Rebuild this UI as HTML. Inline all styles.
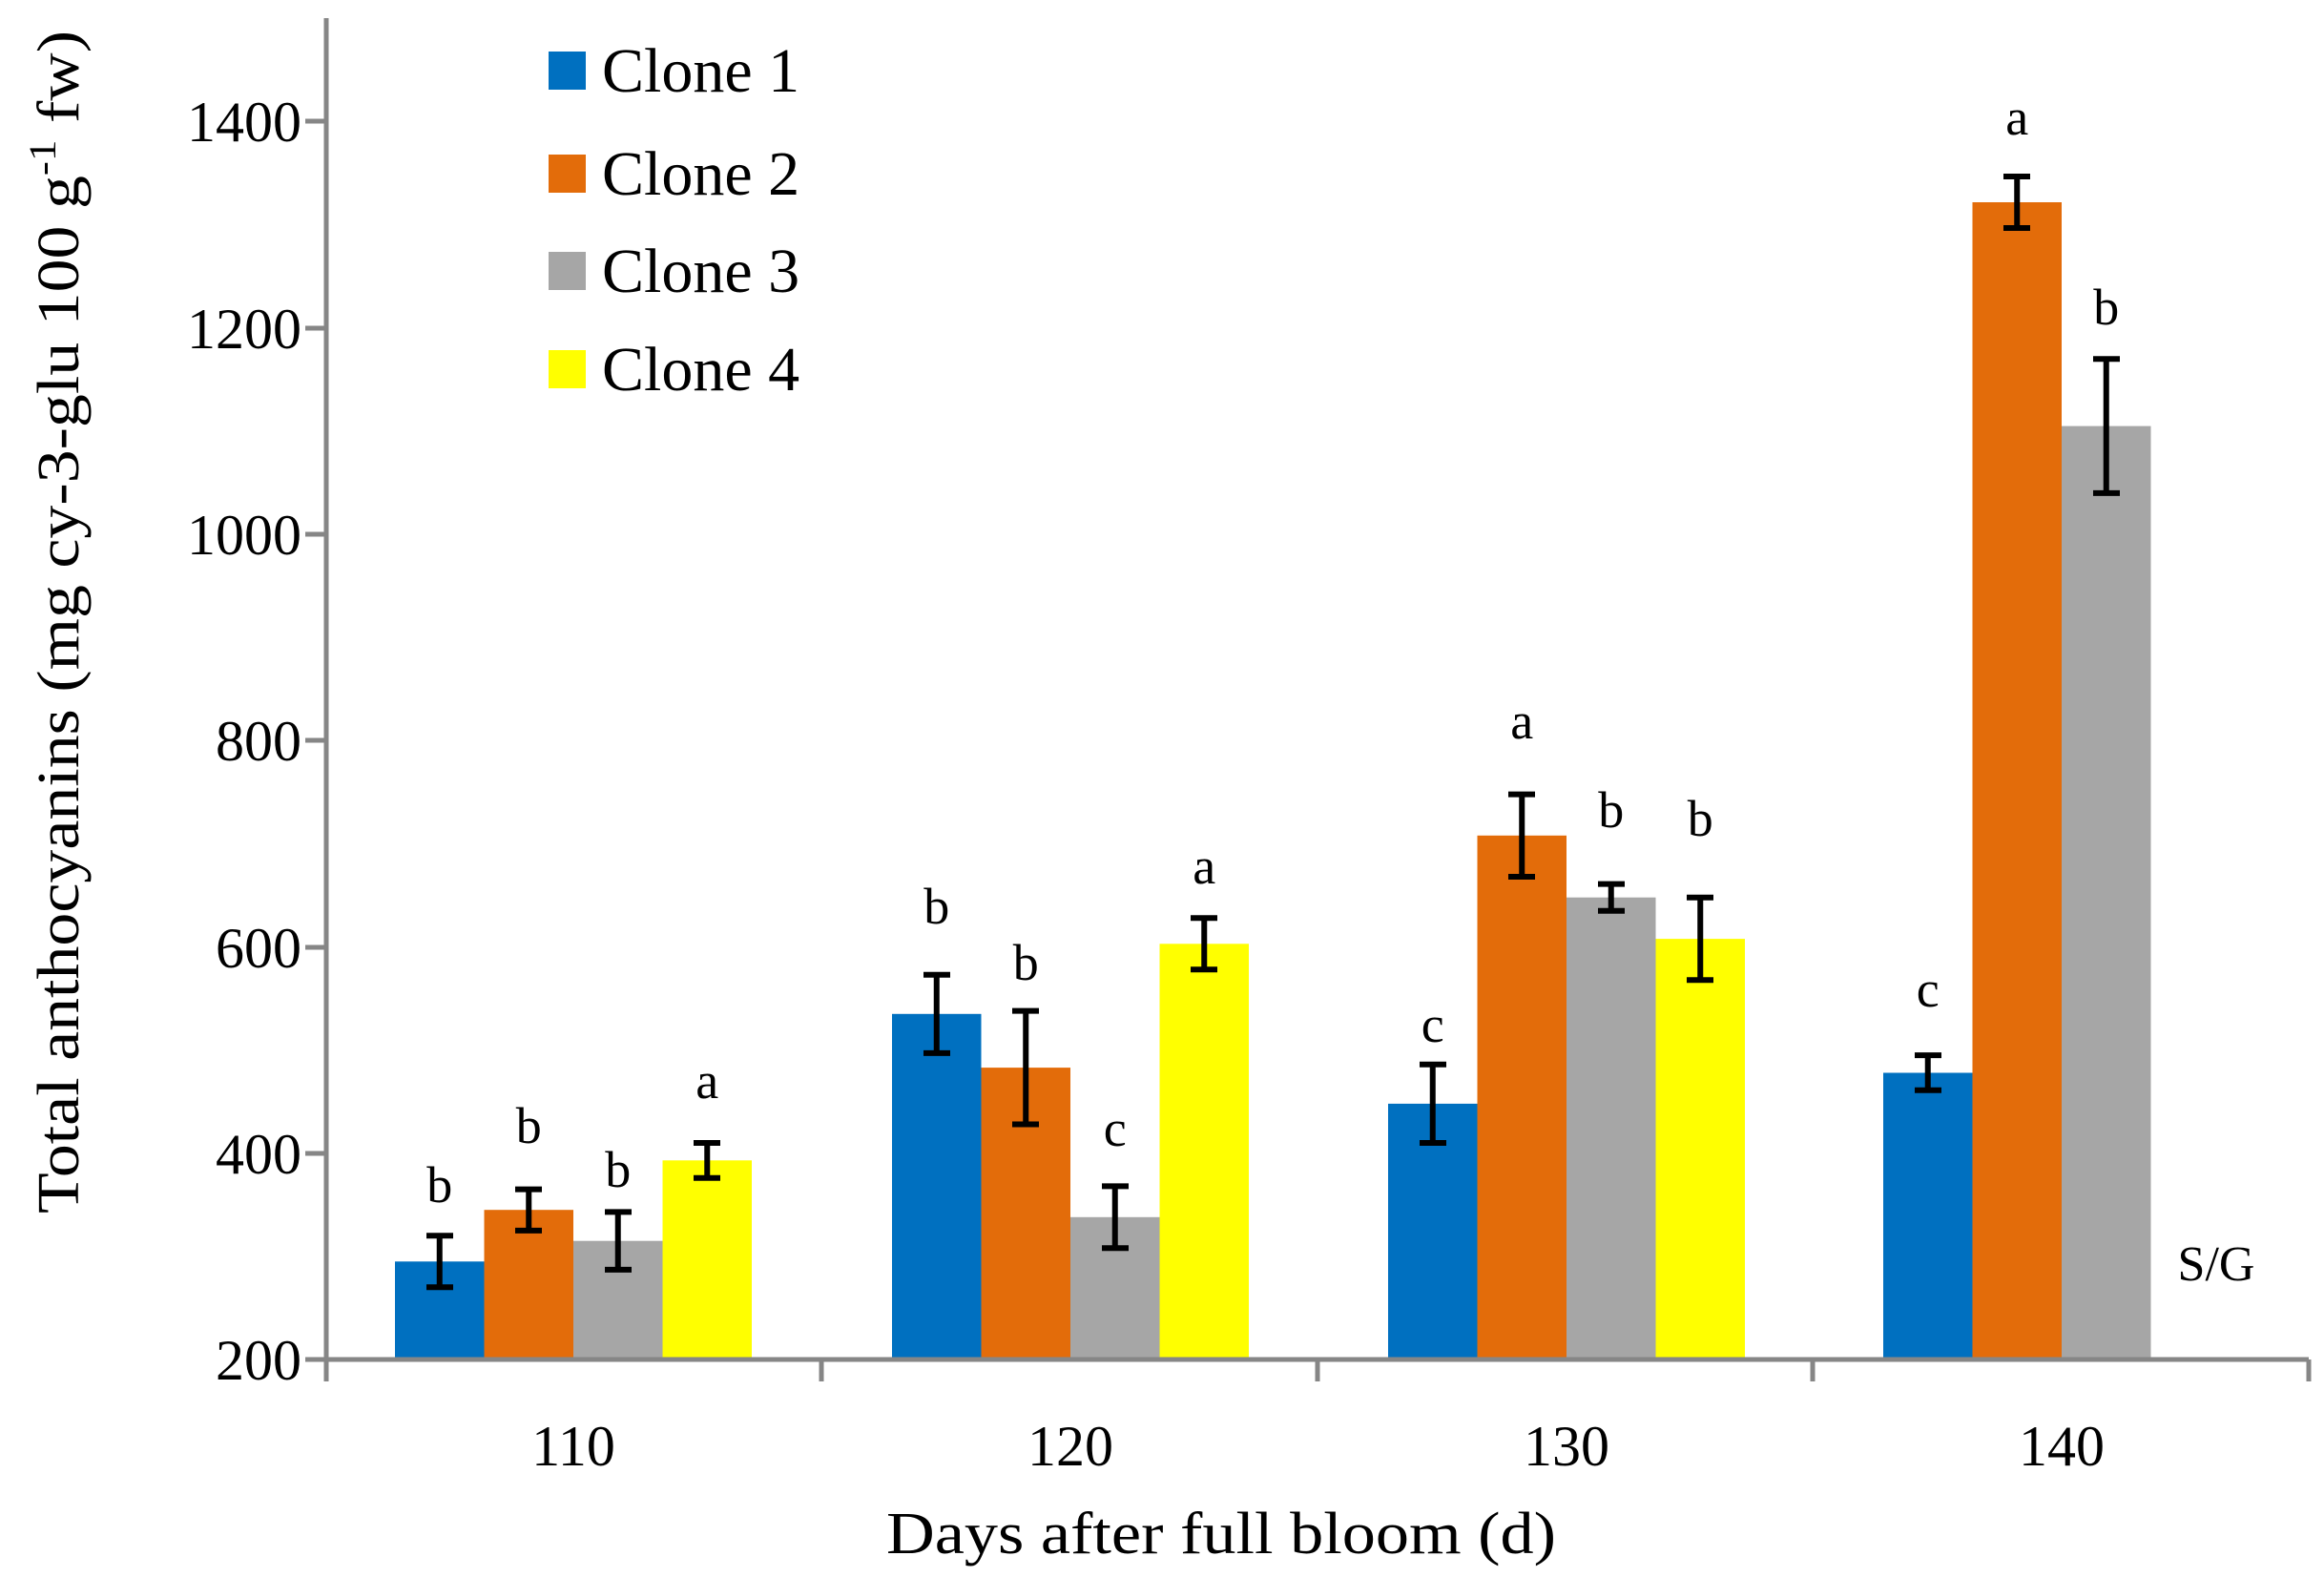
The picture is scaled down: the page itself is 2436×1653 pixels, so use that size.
<!DOCTYPE html>
<html><head><meta charset="utf-8"><style>
html,body{margin:0;padding:0;background:#fff}
svg{display:block}
text{font-family:"Liberation Serif",serif;fill:#000}
</style></head><body>
<svg width="2436" height="1653" viewBox="0 0 2436 1653" xmlns="http://www.w3.org/2000/svg">
<g>
<rect x="414" y="1322.3" width="93.5" height="102.7" fill="#0070C0"/>
<rect x="507.5" y="1268.2" width="93.5" height="156.8" fill="#E36C0A"/>
<rect x="601" y="1300.7" width="93.5" height="124.3" fill="#A6A6A6"/>
<rect x="694.5" y="1216.3" width="93.5" height="208.7" fill="#FFFF00"/>
<rect x="935" y="1062.8" width="93.5" height="362.2" fill="#0070C0"/>
<rect x="1028.5" y="1119.1" width="93.5" height="305.9" fill="#E36C0A"/>
<rect x="1122" y="1275.8" width="93.5" height="149.2" fill="#A6A6A6"/>
<rect x="1215.5" y="989.3" width="93.5" height="435.7" fill="#FFFF00"/>
<rect x="1455" y="1156.9" width="93.5" height="268.1" fill="#0070C0"/>
<rect x="1548.5" y="875.8" width="93.5" height="549.2" fill="#E36C0A"/>
<rect x="1642" y="940.7" width="93.5" height="484.3" fill="#A6A6A6"/>
<rect x="1735.5" y="984.1" width="93.5" height="440.9" fill="#FFFF00"/>
<rect x="1974" y="1124.5" width="93.5" height="300.5" fill="#0070C0"/>
<rect x="2067.5" y="212" width="93.5" height="1213" fill="#E36C0A"/>
<rect x="2161" y="446.6" width="93.5" height="978.4" fill="#A6A6A6"/>
</g>
<g stroke="#000" stroke-width="6" fill="none">
<path d="M460.75 1295.3V1349.3M447 1295.3h28M447 1349.3h28"/>
<path d="M554.25 1246.6V1289.9M540 1246.6h28M540 1289.9h28"/>
<path d="M647.75 1270.4V1330.9M634 1270.4h28M634 1330.9h28"/>
<path d="M741.25 1198V1234.7M727 1198h28M727 1234.7h28"/>
<path d="M981.75 1021.7V1103.9M968 1021.7h28M968 1103.9h28"/>
<path d="M1075.25 1059.6V1178.5M1061 1059.6h28M1061 1178.5h28"/>
<path d="M1168.75 1243.4V1308.2M1155 1243.4h28M1155 1308.2h28"/>
<path d="M1262.25 962.3V1016.3M1248 962.3h28M1248 1016.3h28"/>
<path d="M1501.75 1115.8V1198M1488 1115.8h28M1488 1198h28"/>
<path d="M1595.25 832.6V919M1581 832.6h28M1581 919h28"/>
<path d="M1688.75 926.6V954.7M1675 926.6h28M1675 954.7h28"/>
<path d="M1782.25 940.7V1027.2M1768 940.7h28M1768 1027.2h28"/>
<path d="M2020.75 1106.1V1142.8M2007 1106.1h28M2007 1142.8h28"/>
<path d="M2114.25 185V239M2100 185h28M2100 239h28"/>
<path d="M2207.75 376.3V516.9M2194 376.3h28M2194 516.9h28"/>
</g>
<g font-size="54" text-anchor="middle">
<text x="460.75" y="1260">b</text><text x="554.25" y="1198">b</text><text x="647.75" y="1244">b</text><text x="741.25" y="1151">a</text>
<text x="981.75" y="968">b</text><text x="1075.25" y="1027">b</text><text x="1168.75" y="1201">c</text><text x="1262.25" y="926">a</text>
<text x="1501.75" y="1092">c</text><text x="1595.25" y="774">a</text><text x="1688.75" y="867">b</text><text x="1782.25" y="876">b</text>
<text x="2020.75" y="1055">c</text><text x="2114.25" y="141">a</text><text x="2207.75" y="340">b</text>
</g>
<g stroke="#868686" stroke-width="5" fill="none">
<line x1="342" y1="19" x2="342" y2="1448"/>
<line x1="320" y1="1425" x2="2420" y2="1425"/>
<line x1="320" y1="1209" x2="342" y2="1209"/>
<line x1="320" y1="993" x2="342" y2="993"/>
<line x1="320" y1="776" x2="342" y2="776"/>
<line x1="320" y1="560" x2="342" y2="560"/>
<line x1="320" y1="344" x2="342" y2="344"/>
<line x1="320" y1="127" x2="342" y2="127"/>
<line x1="861" y1="1425" x2="861" y2="1448"/>
<line x1="1381" y1="1425" x2="1381" y2="1448"/>
<line x1="1900" y1="1425" x2="1900" y2="1448"/>
<line x1="2420" y1="1425" x2="2420" y2="1448"/>
</g>
<g font-size="60" text-anchor="end">
<text x="316" y="1446">200</text>
<text x="316" y="1230">400</text>
<text x="316" y="1014">600</text>
<text x="316" y="797">800</text>
<text x="316" y="581">1000</text>
<text x="316" y="365">1200</text>
<text x="316" y="148">1400</text>
</g>
<g font-size="60" text-anchor="middle">
<text x="601" y="1536">110</text>
<text x="1122" y="1536">120</text>
<text x="1642" y="1536">130</text>
<text x="2161" y="1536">140</text>
</g>
<text x="929" y="1628" font-size="62" textLength="702" lengthAdjust="spacingAndGlyphs">Days after full bloom (d)</text>
<text transform="translate(82,1272) rotate(-90)" font-size="62" textLength="1240" lengthAdjust="spacingAndGlyphs">Total anthocyanins (mg cy-3-glu 100 g<tspan dy="-24" font-size="40">-1</tspan><tspan dy="24"> fw)</tspan></text>
<g font-size="66">
<rect x="575" y="54" width="39" height="40" fill="#0070C0"/><text x="631" y="96">Clone 1</text>
<rect x="575" y="162" width="39" height="40" fill="#E36C0A"/><text x="631" y="204">Clone 2</text>
<rect x="575" y="264" width="39" height="40" fill="#A6A6A6"/><text x="631" y="306">Clone 3</text>
<rect x="575" y="367" width="39" height="40" fill="#FFFF00"/><text x="631" y="409">Clone 4</text>
</g>
<text x="2323" y="1342" font-size="52" text-anchor="middle">S/G</text>
</svg>
</body></html>
